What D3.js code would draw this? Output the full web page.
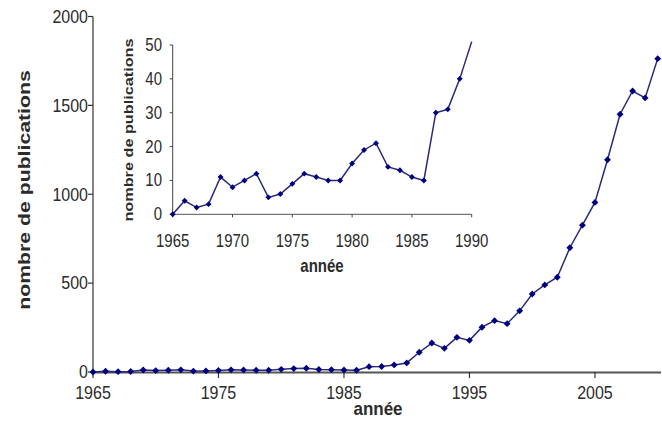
<!DOCTYPE html>
<html>
<head>
<meta charset="utf-8">
<script src="https://cdn.jsdelivr.net/npm/d3@7"></script>
<style>
  html, body { margin: 0; padding: 0; background: #fff; }
  svg { display: block; }
  text { font-family: "Liberation Sans", Arial, sans-serif; fill: #2b2b2b; }
</style>
</head>
<body>
<svg id="chart" width="662" height="441"></svg>
<script>
// ---- data ----
const years = [1965,1966,1967,1968,1969,1970,1971,1972,1973,1974,1975,1976,1977,1978,1979,
               1980,1981,1982,1983,1984,1985,1986,1987,1988,1989,1990,1991,1992,1993,1994,
               1995,1996,1997,1998,1999,2000,2001,2002,2003,2004,2005,2006,2007,2008,2009,2010];
const publications = [0,4,2,3,11,8,10,12,5,6,9,12,11,10,10,
                      15,19,21,14,13,11,10,30,31,40,51,111,163,133,195,
                      178,252,289,272,344,439,490,533,699,826,954,1194,1450,1581,1542,1763];
const mainXTicks = [1965,1975,1985,1995,2005];
const mainYTicks = [0,500,1000,1500,2000];
const insetXTicks = [1965,1970,1975,1980,1985,1990];
const insetYTicks = [0,10,20,30,40,50];
const insetLastYear = 1990;
const yLabel = "nombre de publications";
const xLabel = "année";

const data = years.map((y,i) => ({year: y, v: publications[i]}));
const insetData = data.filter(d => d.year <= insetLastYear);

const svg = d3.select("#chart");
const SY = 1.1; // vertical stretch of text in the reference

function label(g, x, y, txt, opts) {
  const t = g.append("text")
    .attr("transform", `translate(${x},${y}) ${opts.rotate ? "rotate(-90)" : ""} scale(${opts.rotate ? (opts.sx||1) : 1},${opts.rotate ? 1 : (opts.sy||SY)})`)
    .attr("text-anchor", opts.anchor || "middle")
    .style("font-size", opts.size + "px")
    .style("font-weight", opts.bold ? "bold" : "normal")
    .text(txt);
  return t;
}

// ---- main chart ----
const x = d3.scaleLinear().domain([1965, 2010]).range([93, 657.7]);
const y = d3.scaleLinear().domain([0, 2000]).range([372, 16.5]);

const gMain = svg.append("g");
// y axis
gMain.append("line").attr("x1", x(1965)).attr("x2", x(1965)).attr("y1", y(2000)).attr("y2", y(0))
  .attr("stroke", "#333").attr("stroke-width", 1.2);
gMain.selectAll(".ytick").data(mainYTicks).join("line")
  .attr("x1", x(1965) - 5).attr("x2", x(1965)).attr("y1", d => y(d)).attr("y2", d => y(d))
  .attr("stroke", "#333").attr("stroke-width", 1.2);
mainYTicks.forEach(t => label(gMain, 88, y(t) + 6.3, d3.format("d")(t), {anchor: "end", size: 16}));
// x axis
gMain.append("line").attr("x1", x(1965)).attr("x2", 661).attr("y1", y(0) + 0.5).attr("y2", y(0) + 0.5)
  .attr("stroke", "#555").attr("stroke-width", 2);
gMain.selectAll(".xtick").data(mainXTicks).join("line")
  .attr("x1", d => x(d)).attr("x2", d => x(d)).attr("y1", y(0)).attr("y2", y(0) + 6)
  .attr("stroke", "#333").attr("stroke-width", 1.2);
mainXTicks.forEach(t => label(gMain, x(t), 398.5, String(t), {size: 16}));
label(gMain, 378, 415, xLabel, {size: 17, bold: true});
label(gMain, 30, 190, yLabel, {rotate: true, size: 17, bold: true, sx: 1.25});

const line = d3.line().x(d => x(d.year)).y(d => y(d.v));
gMain.append("path").datum(data).attr("d", line)
  .attr("fill", "none").attr("stroke", "#2a2a78").attr("stroke-width", 1.5);
const diamond = d3.symbol().type(d3.symbolDiamond2);
gMain.selectAll(".pt").data(data).join("path")
  .attr("d", diamond.size(30)())
  .attr("transform", d => `translate(${x(d.year)},${y(d.v)})`)
  .attr("fill", "#000080");

// ---- inset chart ----
const xi = d3.scaleLinear().domain([1965, 1990]).range([172.7, 471.7]);
const yi = d3.scaleLinear().domain([0, 50]).range([214.3, 45]);
const gIn = svg.append("g");
gIn.append("line").attr("x1", xi(1965)).attr("x2", xi(1965)).attr("y1", yi(50)).attr("y2", yi(0))
  .attr("stroke", "#444").attr("stroke-width", 1);
gIn.selectAll(".yt").data(insetYTicks).join("line")
  .attr("x1", xi(1965) - 3).attr("x2", xi(1965)).attr("y1", d => yi(d)).attr("y2", d => yi(d))
  .attr("stroke", "#444").attr("stroke-width", 1);
insetYTicks.forEach(t => label(gIn, 162, yi(t) + 6, String(t), {anchor: "end", size: 15, sy: 1.2}));
gIn.append("line").attr("x1", xi(1965)).attr("x2", xi(1990)).attr("y1", yi(0)).attr("y2", yi(0))
  .attr("stroke", "#777").attr("stroke-width", 1.2);
gIn.selectAll(".xt").data(insetXTicks).join("line")
  .attr("x1", d => xi(d)).attr("x2", d => xi(d)).attr("y1", yi(0)).attr("y2", yi(0) + 3)
  .attr("stroke", "#444").attr("stroke-width", 1);
insetXTicks.forEach(t => label(gIn, xi(t), 247, String(t), {size: 15, sy: 1.2}));
label(gIn, 322, 272, xLabel, {size: 15, bold: true, sy: 1.2});
label(gIn, 133, 130, yLabel, {rotate: true, size: 13, bold: true, sx: 1.25});

const linei = d3.line().x(d => xi(d.year)).y(d => yi(d.v));
gIn.append("path").datum(insetData).attr("d", linei)
  .attr("fill", "none").attr("stroke", "#2a2a78").attr("stroke-width", 1.5);
gIn.selectAll(".pti").data(insetData.filter(d => d.v <= 50)).join("path")
  .attr("d", diamond.size(22)())
  .attr("transform", d => `translate(${xi(d.year)},${yi(d.v)})`)
  .attr("fill", "#000080");
</script>
</body>
</html>
